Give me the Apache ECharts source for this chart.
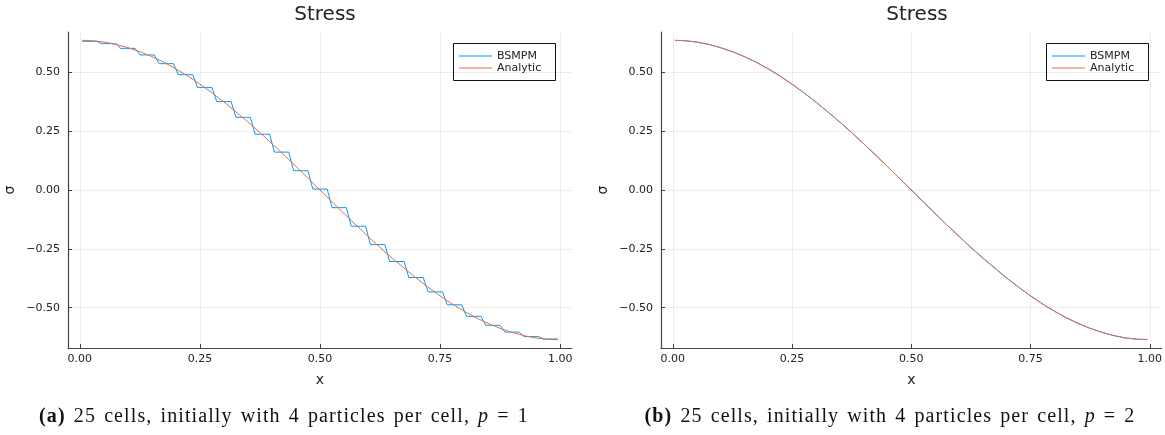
<!DOCTYPE html>
<html>
<head>
<meta charset="utf-8">
<script src="https://cdn.jsdelivr.net/npm/echarts@6/dist/echarts.min.js"></script>
<style>
  html, body { margin: 0; padding: 0; background: #fff; }
  #wrap { position: relative; width: 1165px; height: 435px; }
  #chart { position: absolute; left: 0; top: 0; width: 1165px; height: 435px; }
  .cap { position: absolute; top: 404px; font-family: "Liberation Serif", serif; font-size: 20px;
         letter-spacing: 1.1px; word-spacing: 2px; color: #111; white-space: nowrap; transform: translateX(-50%); }
  .cap b { font-weight: bold; }
  .cap i { font-style: italic; }
</style>
</head>
<body>
<div id="wrap">
  <div id="chart"></div>
  <div class="cap" style="left:284px"><b>(a)</b> 25 cells, initially with 4 particles per cell, <i>p</i> = 1</div>
  <div class="cap" style="left:890px"><b>(b)</b> 25 cells, initially with 4 particles per cell, <i>p</i> = 2</div>
</div>
<script>
// ---------------- data ----------------
const xTicks = [0, 0.25, 0.5, 0.75, 1.0];
const yTicks = [-0.5, -0.25, 0, 0.25, 0.5];
const legendNames = ['BSMPM', 'Analytic'];

// particle positions (25 cells x 4 particles)
const particleX = [
  0.005, 0.015, 0.025, 0.035, 0.045, 0.055, 0.065, 0.075, 0.085, 0.095,
  0.105, 0.115, 0.125, 0.135, 0.145, 0.155, 0.165, 0.175, 0.185, 0.195,
  0.205, 0.215, 0.225, 0.235, 0.245, 0.255, 0.265, 0.275, 0.285, 0.295,
  0.305, 0.315, 0.325, 0.335, 0.345, 0.355, 0.365, 0.375, 0.385, 0.395,
  0.405, 0.415, 0.425, 0.435, 0.445, 0.455, 0.465, 0.475, 0.485, 0.495,
  0.505, 0.515, 0.525, 0.535, 0.545, 0.555, 0.565, 0.575, 0.585, 0.595,
  0.605, 0.615, 0.625, 0.635, 0.645, 0.655, 0.665, 0.675, 0.685, 0.695,
  0.705, 0.715, 0.725, 0.735, 0.745, 0.755, 0.765, 0.775, 0.785, 0.795,
  0.805, 0.815, 0.825, 0.835, 0.845, 0.855, 0.865, 0.875, 0.885, 0.895,
  0.905, 0.915, 0.925, 0.935, 0.945, 0.955, 0.965, 0.975, 0.985, 0.995
];
// BSMPM p=1: stress per cell (same for the 4 particles of a cell)
const cellStressP1 = [
  0.632, 0.622, 0.602, 0.574, 0.537, 0.490, 0.436, 0.376, 0.309, 0.237,
  0.161, 0.082, 0.004, -0.075, -0.154, -0.232, -0.304, -0.372, -0.433, -0.488,
  -0.537, -0.575, -0.604, -0.623, -0.633
];
// analytic curve samples
const analyticX = [
  0.005, 0.025, 0.05, 0.075, 0.1, 0.125, 0.15, 0.175, 0.2, 0.225,
  0.25, 0.275, 0.3, 0.325, 0.35, 0.375, 0.4, 0.425, 0.45, 0.475,
  0.5, 0.525, 0.55, 0.575, 0.6, 0.625, 0.65, 0.675, 0.7, 0.725,
  0.75, 0.775, 0.8, 0.825, 0.85, 0.875, 0.9, 0.925, 0.95, 0.975, 0.995
];
const analyticStress = [
  0.636, 0.635, 0.629, 0.619, 0.605, 0.588, 0.567, 0.543, 0.515, 0.484,
  0.450, 0.413, 0.374, 0.332, 0.289, 0.244, 0.197, 0.149, 0.100, 0.050,
  0.000, -0.050, -0.100, -0.149, -0.197, -0.244, -0.289, -0.332, -0.374, -0.413,
  -0.450, -0.484, -0.515, -0.543, -0.567, -0.588, -0.605, -0.619, -0.629, -0.635, -0.636
];
// BSMPM p=2 (read at same positions; visually on top of analytic)
const bsmpmP2Stress = [
  0.636, 0.634, 0.629, 0.619, 0.605, 0.588, 0.567, 0.543, 0.515, 0.484,
  0.450, 0.413, 0.374, 0.332, 0.289, 0.244, 0.197, 0.149, 0.100, 0.050,
  0.000, -0.050, -0.100, -0.149, -0.197, -0.244, -0.289, -0.332, -0.374, -0.413,
  -0.450, -0.484, -0.515, -0.543, -0.567, -0.588, -0.605, -0.619, -0.629, -0.634, -0.635
];

// ---------------- chart ----------------
const BLUE = '#009AFA', ORANGE = '#E36F47';
const COLORS = [BLUE, ORANGE];
const FONT = '"DejaVu Sans", sans-serif';
const fmt = v => v.toFixed(2).replace('-', '\u2212');

const bsmpmP1 = particleX.map((x, i) => [x, cellStressP1[Math.floor(i / 4)]]);
const analytic = analyticX.map((x, i) => [x, analyticStress[i]]);
const bsmpmP2 = analyticX.map((x, i) => [x, bsmpmP2Stress[i]]);

const grids = [
  { left: 68, top: 32, width: 504, height: 316 },
  { left: 661, top: 32, width: 503, height: 316 }
];

function xAxisFor(i) {
  return {
    type: 'value', gridIndex: i, min: -0.0247, max: 1.0247,
    name: 'x', nameLocation: 'middle', nameGap: 25,
    nameTextStyle: { fontFamily: FONT, fontSize: 14, color: '#222' },
    axisLine: { show: true, onZero: false, lineStyle: { color: '#444', width: 1.2 } },
    axisTick: { show: true, inside: true, length: 4, customValues: xTicks, lineStyle: { color: '#444' } },
    axisLabel: { customValues: xTicks, formatter: fmt, margin: 6, fontFamily: FONT, fontSize: 11, color: '#222' },
    splitLine: { show: false }
  };
}
function yAxisFor(i) {
  return {
    type: 'value', gridIndex: i, min: -0.6715, max: 0.6715,
    name: '\u03c3', nameLocation: 'middle', nameGap: 51, nameRotate: 90,
    nameTextStyle: { fontFamily: FONT, fontSize: 14, color: '#222' },
    axisLine: { show: true, onZero: false, lineStyle: { color: '#444', width: 1.2 } },
    axisTick: { show: true, inside: true, length: 4, customValues: yTicks, lineStyle: { color: '#444' } },
    axisLabel: { customValues: yTicks, formatter: fmt, margin: 8, fontFamily: FONT, fontSize: 11, color: '#222' },
    splitLine: { show: false }
  };
}
function gridLines(i) {
  return {
    type: 'line', name: 'grid' + i, xAxisIndex: i, yAxisIndex: i, data: [], z: 1,
    silent: true, animation: false,
    markLine: {
      silent: true, symbol: 'none', animation: false, label: { show: false },
      lineStyle: { color: 'rgba(0,0,0,0.07)', width: 1, type: 'solid' },
      data: xTicks.map(v => ({ xAxis: v })).concat(yTicks.map(v => ({ yAxis: v })))
    }
  };
}
function lineSeries(name, data, color, i) {
  return {
    type: 'line', name: name, data: data, xAxisIndex: i, yAxisIndex: i, z: 3,
    symbol: 'none', showSymbol: false, animation: false,
    lineStyle: { color: color, width: 1 }, itemStyle: { color: color }
  };
}
// legend box drawn as graphic group (border box, line samples, labels)
function legendGraphic(x, y) {
  const children = [{
    type: 'rect', shape: { x: 0.5, y: 0.5, width: 102, height: 37 },
    style: { fill: '#fff', stroke: '#111', lineWidth: 1 }
  }];
  legendNames.forEach((name, k) => {
    const cy = 13 + 12 * k;
    children.push({
      type: 'line', shape: { x1: 6, y1: cy, x2: 39, y2: cy },
      style: { stroke: COLORS[k], lineWidth: 1.2 }
    });
    children.push({
      type: 'text', x: 44, y: cy,
      style: { text: name, fill: '#222', font: '11px ' + FONT, textVerticalAlign: 'middle', verticalAlign: 'middle' }
    });
  });
  return { type: 'group', x: x, y: y, z: 100, silent: true, children: children };
}

const chart = echarts.init(document.getElementById('chart'), null, { renderer: 'canvas' });
chart.setOption({
  backgroundColor: '#fff',
  animation: false,
  title: [
    { text: 'Stress', left: 320, top: 0, textAlign: 'center',
      textStyle: { fontFamily: FONT, fontSize: 20, fontWeight: 'normal', color: '#222' } },
    { text: 'Stress', left: 912, top: 0, textAlign: 'center',
      textStyle: { fontFamily: FONT, fontSize: 20, fontWeight: 'normal', color: '#222' } }
  ],
  grid: grids,
  xAxis: [xAxisFor(0), xAxisFor(1)],
  yAxis: [yAxisFor(0), yAxisFor(1)],
  graphic: [legendGraphic(453, 43), legendGraphic(1046, 43)],
  series: [
    gridLines(0), gridLines(1),
    lineSeries('BSMPM', bsmpmP1, BLUE, 0),
    lineSeries('Analytic', analytic, ORANGE, 0),
    lineSeries('BSMPM', bsmpmP2, BLUE, 1),
    lineSeries('Analytic', analytic, ORANGE, 1)
  ]
});
</script>
</body>
</html>
